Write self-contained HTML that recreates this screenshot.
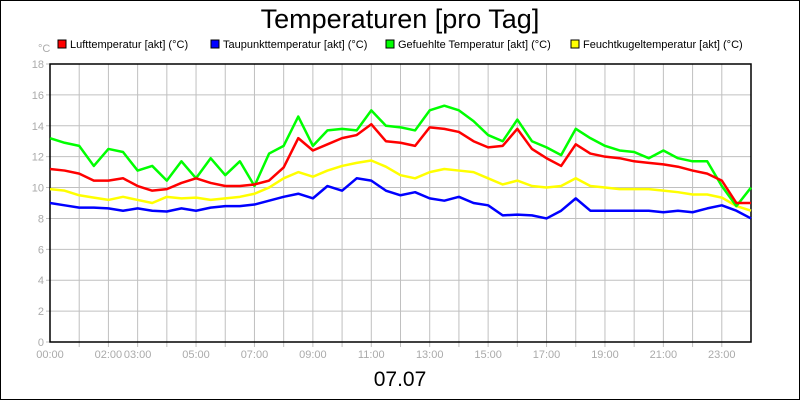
<!DOCTYPE html>
<html><head><meta charset="utf-8"><style>
body{margin:0;background:#fff}
svg{display:block;font-family:"Liberation Sans",sans-serif}
</style></head><body>
<svg id="chart" width="800" height="400" viewBox="0 0 800 400">
<rect x="0.5" y="0.5" width="799" height="399" fill="#fff" stroke="#000"/>
<text x="400" y="28" font-size="27" text-anchor="middle">Temperaturen [pro Tag]</text>
<text x="38" y="52" font-size="11" fill="#aaa">°C</text>
<g id="grid"></g>
<g id="axes"></g>
<g id="series"></g>
<g id="legend"></g>
<text x="400" y="386" font-size="21" text-anchor="middle">07.07</text>
</svg>
<script>
const hours=[0,0.5,1,1.5,2,2.5,3,3.5,4,4.5,5,5.5,6,6.5,7,7.5,8,8.5,9,9.5,10,10.5,11,11.5,12,12.5,13,13.5,14,14.5,15,15.5,16,16.5,17,17.5,18,18.5,19,19.5,20,20.5,21,21.5,22,22.5,23,23.5,24];
const luft=[11.2,11.1,10.9,10.45,10.45,10.6,10.1,9.8,9.9,10.3,10.6,10.3,10.1,10.1,10.2,10.45,11.3,13.2,12.4,12.8,13.2,13.4,14.1,13,12.9,12.7,13.9,13.8,13.6,13,12.6,12.7,13.8,12.5,11.9,11.4,12.8,12.2,12,11.9,11.7,11.6,11.5,11.35,11.1,10.9,10.45,9.0,9.0];
const taupunkt=[9.0,8.85,8.7,8.7,8.65,8.5,8.65,8.5,8.45,8.65,8.5,8.7,8.8,8.8,8.9,9.15,9.4,9.6,9.3,10.1,9.8,10.6,10.45,9.8,9.5,9.7,9.3,9.15,9.4,9.0,8.85,8.2,8.25,8.2,8.0,8.5,9.3,8.5,8.5,8.5,8.5,8.5,8.4,8.5,8.4,8.65,8.85,8.5,8.0];
const gefuehlt=[13.2,12.9,12.7,11.4,12.5,12.3,11.1,11.4,10.45,11.7,10.6,11.9,10.8,11.7,10.1,12.2,12.7,14.6,12.7,13.7,13.8,13.7,15,14,13.9,13.7,15,15.3,15,14.3,13.4,13,14.4,13,12.6,12.1,13.8,13.2,12.7,12.4,12.3,11.9,12.4,11.9,11.7,11.7,10.1,8.8,10.0];
const feucht=[9.9,9.8,9.5,9.35,9.2,9.4,9.2,9.0,9.4,9.3,9.35,9.2,9.3,9.4,9.6,10,10.6,11,10.7,11.1,11.4,11.6,11.75,11.35,10.8,10.6,11,11.2,11.1,11,10.6,10.2,10.45,10.1,10,10.1,10.6,10.1,10,9.9,9.9,9.9,9.8,9.7,9.55,9.55,9.35,8.8,8.5];
const yTicks=[0,2,4,6,8,10,12,14,16,18];
const xLabels=["00:00","02:00","03:00","05:00","07:00","09:00","11:00","13:00","15:00","17:00","19:00","21:00","23:00"];
const xLabelHours=[0,2,3,5,7,9,11,13,15,17,19,21,23];
const seriesNames=["Lufttemperatur [akt] (°C)","Taupunkttemperatur [akt] (°C)","Gefuehlte Temperatur [akt] (°C)","Feuchtkugeltemperatur [akt] (°C)"];

const X0=50,X1=751,Y0=342,Y1=64;
const xs=h=>X0+(X1-X0)*h/24;
const ys=v=>Y0-(Y0-Y1)*v/18;
const NS="http://www.w3.org/2000/svg";
function mk(tag,parent,attrs){const e=document.createElementNS(NS,tag);for(const k in attrs)e.setAttribute(k,attrs[k]);parent.appendChild(e);return e;}
const grid=document.getElementById('grid'),axes=document.getElementById('axes'),series=document.getElementById('series'),legend=document.getElementById('legend');
for(let h=1;h<24;h++){const l=mk('line',grid,{x1:xs(h),x2:xs(h),y1:Y1,y2:Y0+5,stroke:'#c0c0c0'});

}
yTicks.forEach(v=>{const l=mk('line',grid,{x1:X0-4,x2:X1,y1:ys(v),y2:ys(v),stroke:'#c0c0c0'});


const t=mk('text',axes,{x:X0-6,y:ys(v)+4,'font-size':11,fill:'#aaa','text-anchor':'end'});t.textContent=v;

});
xLabels.forEach((s,i)=>{const h=xLabelHours[i];const t=mk('text',axes,{x:xs(h),y:Y0+16,'font-size':11,fill:'#aaa','text-anchor':'middle'});t.textContent=s;

});
const frame=mk('rect',axes,{x:X0,y:Y1,width:X1-X0,height:Y0-Y1,fill:'none',stroke:'#000','stroke-width':1.5});


const data=[feucht,taupunkt,gefuehlt,luft];
const cols=['#ffff00','#0000ff','#00ff00','#ff0000'];
const names=['series-feuchtkugel','series-taupunkt','series-gefuehlt','series-luft'];
data.forEach((d,i)=>{const p=mk('polyline',series,{points:d.map((v,j)=>xs(hours[j])+','+ys(v)).join(' '),fill:'none',stroke:cols[i],'stroke-width':2.5,'stroke-linejoin':'round'});

});
const lx=[58,211,386,571],lc=['#ff0000','#0000ff','#00ff00','#ffff00'];
seriesNames.forEach((s,i)=>{const r=mk('rect',legend,{x:lx[i],y:40,width:8,height:8,fill:lc[i],stroke:'#000'});


const t=mk('text',legend,{x:lx[i]+12,y:48,'font-size':11});t.textContent=s;

});
</script>
</body></html>
